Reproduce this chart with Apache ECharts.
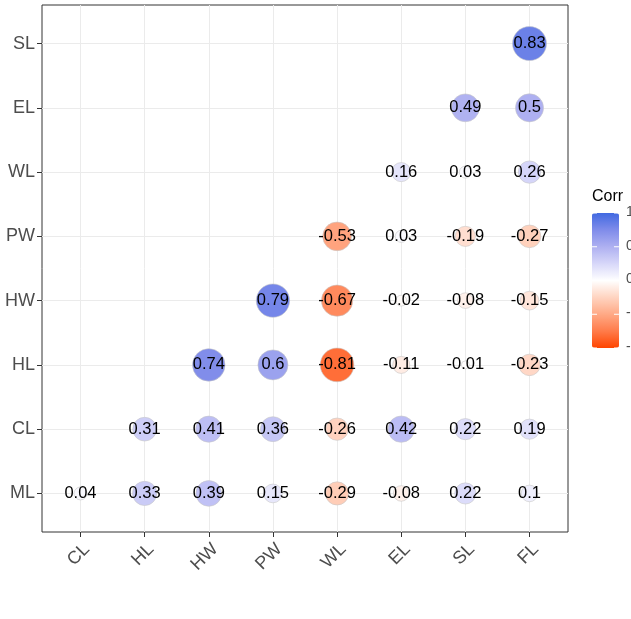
<!DOCTYPE html>
<html>
<head>
<meta charset="utf-8">
<script src="https://cdn.jsdelivr.net/npm/echarts@6/dist/echarts.min.js"></script>
<style>
  html, body { margin: 0; padding: 0; background: #fff; }
  #corrChart { width: 631px; height: 619px; }
</style>
</head>
<body>
<div id="corrChart"></div>
<script>
// 变量顺序
const xNames = ["CL", "HL", "HW", "PW", "WL", "EL", "SL", "FL"];
const yNames = ["ML", "CL", "HL", "HW", "PW", "WL", "EL", "SL"];

// 每一行的相关系数（从左边第一个非空格子开始）
const rowML = [0.04, 0.33, 0.39, 0.15, -0.29, -0.08, 0.22, 0.1];
const rowCL = [0.31, 0.41, 0.36, -0.26, 0.42, 0.22, 0.19];
const rowHL = [0.74, 0.6, -0.81, -0.11, -0.01, -0.23];
const rowHW = [0.79, -0.67, -0.02, -0.08, -0.15];
const rowPW = [-0.53, 0.03, -0.19, -0.27];
const rowWL = [0.16, 0.03, 0.26];
const rowEL = [0.49, 0.5];
const rowSL = [0.83];

const legendTicks = [1, 0.5, 0, -0.5, -1];

const rows = [rowML, rowCL, rowHL, rowHW, rowPW, rowWL, rowEL, rowSL];
let cells = [];
rows.forEach((row, yi) => {
  let start = xNames.length - row.length;
  row.forEach((v, k) => {
    cells.push([start + k, yi, v]);
  });
});
let absVals = cells.map(c => Math.abs(c[2]));
let minAbs = Math.min(...absVals);
let maxAbs = Math.max(...absVals);

// 坐标轴公共样式
function makeAxis(names, isX) {
  return {
    type: "value",
    min: -0.6,
    max: names.length - 0.4,
    axisLine: { show: false, onZero: false },
    axisTick: {
      show: true,
      length: 5,
      customValues: names.map((n, i) => i),
      lineStyle: { color: "#333333", width: 1 }
    },
    splitLine: { show: true, lineStyle: { color: "#EBEBEB", width: 1 } },
    axisLabel: {
      customValues: names.map((n, i) => i),
      formatter: v => names[Math.round(v)],
      color: "#4D4D4D",
      fontSize: 18,
      fontFamily: "Liberation Sans, Arial",
      margin: isX ? 8 : 7,
      rotate: isX ? 45 : 0,
      verticalAlign: isX ? "top" : "middle"
    }
  };
}

let myChart = echarts.init(document.getElementById("corrChart"));

let bar = { left: 592, top: 213, width: 27, height: 135 };

myChart.setOption({
  animation: false,
  backgroundColor: "#fff",
  grid: {
    left: 42,
    right: 63,
    top: 5,
    bottom: 87,
    show: true,
    borderColor: "#333333",
    borderWidth: 1,
    backgroundColor: "transparent"
  },
  xAxis: makeAxis(xNames, true),
  yAxis: makeAxis(yNames, false),
  visualMap: {
    type: "continuous",
    min: -1,
    max: 1,
    dimension: 2,
    seriesIndex: 0,
    calculable: false,
    show: true,
    left: bar.left,
    top: bar.top,
    itemWidth: bar.width,
    itemHeight: bar.height,
    padding: 0,
    text: null,
    inRange: {
      color: ["#FF4500", "#FF7B4A", "#FFA985", "#FFD4C1", "#FFFFFF",
              "#D7D7F9", "#AEB0F1", "#7F8CEA", "#4169E1"]
    }
  },
  graphic: [
    {
      type: "text",
      left: 592,
      top: 189,
      style: { text: "Corr", fontSize: 16, fill: "#000", fontFamily: "Liberation Sans, Arial" }
    }
  ].concat(legendTicks.map(t => ({
    type: "text",
    left: 626,
    top: bar.top + (1 - t) / 2 * bar.height - 8,
    style: { text: String(t), fontSize: 14, fill: "#4D4D4D", fontFamily: "Liberation Sans, Arial" }
  }))).concat(legendTicks.map(t => ({
    type: "group",
    children: [
      { type: "line", shape: { x1: bar.left, y1: 0, x2: bar.left + 5, y2: 0 },
        y: bar.top + (1 - t) / 2 * bar.height, style: { stroke: "#fff", lineWidth: 1 }, z: 100 },
      { type: "line", shape: { x1: bar.left + bar.width - 5, y1: 0, x2: bar.left + bar.width, y2: 0 },
        y: bar.top + (1 - t) / 2 * bar.height, style: { stroke: "#fff", lineWidth: 1 }, z: 100 }
    ]
  }))),
  series: [
    {
      type: "scatter",
      data: cells,
      symbol: "circle",
      symbolSize: function (val) {
        let a = Math.abs(val[2]);
        return 8 + 26 * Math.sqrt((a - minAbs) / (maxAbs - minAbs));
      },
      itemStyle: { borderColor: "#C8C8C8", borderWidth: 0.6, opacity: 1 },
      label: {
        show: true,
        position: "inside",
        formatter: p => String(p.value[2]),
        color: "#000",
        fontSize: 16.5,
        fontFamily: "Liberation Sans, Arial"
      },
      emphasis: { disabled: true }
    }
  ]
});
</script>
</body>
</html>
